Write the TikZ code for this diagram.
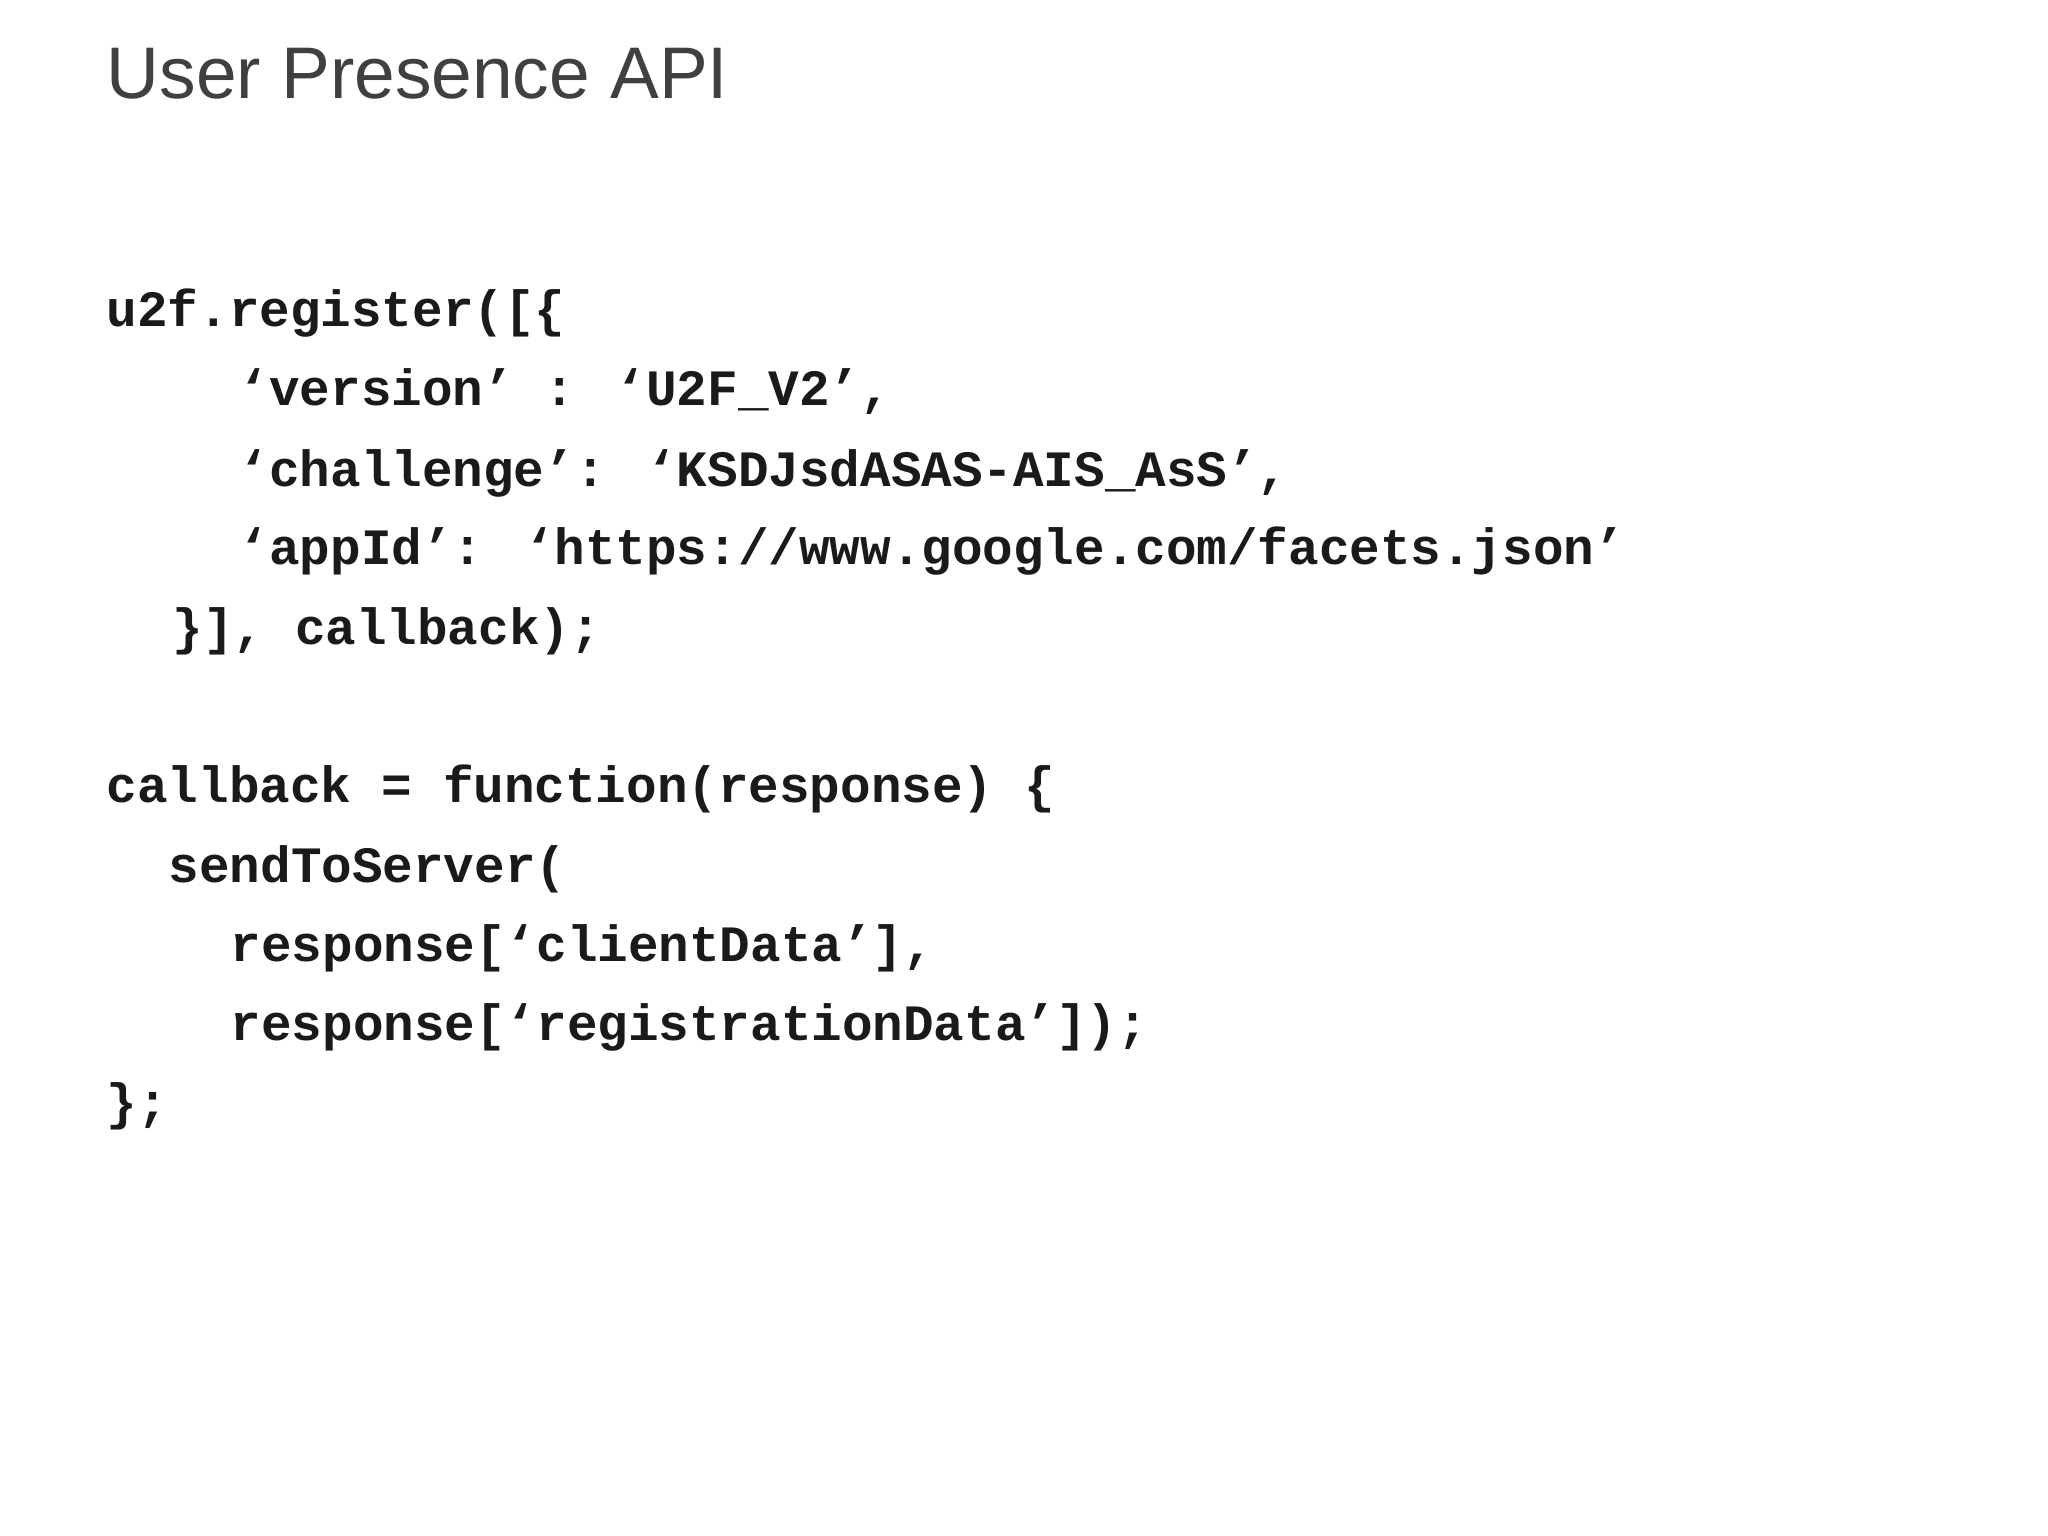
\documentclass[tikz,border=0pt]{standalone}
\usepackage{fontspec}
\setmainfont{Liberation Sans}
\newfontfamily\codefont{Liberation Mono}
\definecolor{titlegray}{HTML}{404040}
\definecolor{codeblack}{HTML}{1A1A1A}
\begin{document}
\begin{tikzpicture}[x=1cm,y=1cm,
  ttl/.style={anchor=base west,inner sep=0pt,font=\fontsize{20.8pt}{24pt}\selectfont,text=titlegray},
  code/.style={anchor=base west,inner sep=0pt,font=\codefont\bfseries\fontsize{14.5pt}{17pt}\selectfont,text=codeblack}]
\useasboundingbox[fill=white] (0,0) rectangle (20.48,-15.36);
\node[ttl] (t) at (1.06,-0.99) {User Presence API};
\node[code] (l1) at (1.06,-3.27) {u2f.register([\{};
\node[code] (l2) at (2.38,-4.06) {‘version’ : ‘U2F\_V2’,};
\node[code] (l3) at (2.38,-4.86) {‘challenge’: ‘KSDJsdASAS-AIS\_AsS’,};
\node[code] (l4) at (2.38,-5.65) {‘appId’: ‘https://www.google.com/facets.json’};
\node[code] (l5) at (1.72,-6.44) {\}], callback);};
\node[code] (l6) at (1.06,-8.02) {callback = function(response) \{};
\node[code] (l7) at (1.68,-8.82) {sendToServer(};
\node[code] (l8) at (2.30,-9.61) {response[‘clientData’],};
\node[code] (l9) at (2.30,-10.40) {response[‘registrationData’]);};
\node[code] (l10) at (1.06,-11.19) {\};};
\end{tikzpicture}
\end{document}
